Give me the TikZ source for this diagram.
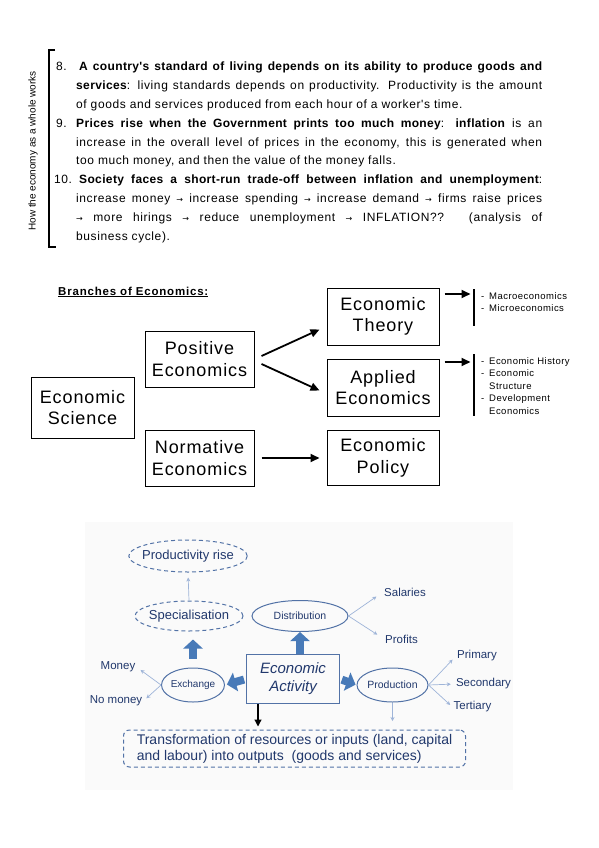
\documentclass[tikz,border=0pt]{standalone}
\usepackage{fontspec}
\setmainfont{Liberation Sans}
\newfontfamily\spaced[LetterSpace=5]{Liberation Sans}
\newfontfamily\boldsp[LetterSpace=3]{Liberation Sans}
\newfontfamily\headfont[LetterSpace=7]{Liberation Sans}
\newfontfamily\arrowfont{DejaVu Sans}
\usetikzlibrary{arrows.meta,shapes.geometric,positioning}
\definecolor{navytext}{RGB}{33,56,108}
\definecolor{ringblue}{RGB}{82,114,166}
\definecolor{blockblue}{RGB}{72,122,184}
\definecolor{paleblue}{RGB}{158,180,216}
\newcommand{\bt}[1]{{\boldsp\bfseries #1}}
\newcommand{\rarr}{{\arrowfont\fontsize{8}{8}\selectfont →}}

\begin{document}
\begin{tikzpicture}[x=1pt, y=-1pt,
  item/.style={anchor=base west, inner sep=0pt, text width=466pt, align=justify,
    font=\spaced\fontsize{12}{18.9}\selectfont},
  branchbox/.style={draw, line width=1pt, inner sep=0pt, align=center,
    font=\spaced\fontsize{18}{21.5}\selectfont},
  brarrow/.style={-{Triangle[length=9pt,width=8pt]}, line width=1.8pt},
  sublist/.style={anchor=north west, inner sep=0pt, align=left,
    font=\spaced\fontsize{9.5}{12.6}\selectfont},
  ring/.style={ellipse, draw=ringblue, line width=1pt, inner sep=0pt, text=navytext},
  dashring/.style={ring, dash pattern=on 4pt off 3pt, inner xsep=-4pt},
  leaf/.style={text=navytext, inner sep=1pt, font=\fontsize{11.5}{13}\selectfont},
  thinarr/.style={-{Stealth[length=4pt,width=4pt]}, draw=paleblue, line width=0.7pt},
  blockarr/.style={-{Triangle[length=9pt,width=19pt]}, line width=8pt, draw=blockblue}]

\useasboundingbox (0,0) rectangle (599,848);

% How the economy works
\node[rotate=90, font=\fontsize{10}{12}\selectfont] (side) at (33,151) {How the economy as a whole works};
\draw[line width=1.6pt] (55,50) -- (48.8,50) -- (48.8,247) -- (56,247);

\node[item] (p8) at (76,70.5) {\llap{\makebox[20pt][l]{8.}}\hspace{3pt}\bt{A country's standard of living depends on its ability to produce goods and}\linebreak
\bt{services}: living standards depends on productivity. Productivity is the amount\linebreak
of goods and services produced from each hour of a worker's time.};
\node[item] (p9) at (76,127.2) {\llap{\makebox[20pt][l]{9.}}\bt{Prices rise when the Government prints too much money}: \bt{inflation} is an\linebreak
increase in the overall level of prices in the economy, this is generated when\linebreak
too much money, and then the value of the money falls.};
\node[item] (p10) at (76,183.9) {\llap{\makebox[22pt][l]{10.}}\hspace{3pt}\bt{Society faces a short-run trade-off between inflation and unemployment}:\linebreak
increase money \rarr{} increase spending \rarr{} increase demand \rarr{} firms raise prices\linebreak
\rarr{} more hirings \rarr{} reduce unemployment \rarr{} INFLATION?? (analysis of\linebreak
business cycle).};

% Branches of economics
\node[anchor=base west, inner sep=0pt, font=\headfont\bfseries\fontsize{11.5}{13}\selectfont] (head) at (58,295) {\underline{Branches of Economics:}};

\node[branchbox, minimum width=103pt, minimum height=61pt] (sci) at (82.5,407.5) {Economic\\Science};
\node[branchbox, minimum width=109pt, minimum height=56pt] (pos) at (199.5,359) {Positive\\Economics};
\node[branchbox, minimum width=109pt, minimum height=56pt] (nor) at (199.5,458) {Normative\\Economics};
\node[branchbox, minimum width=112pt, minimum height=57pt] (theo) at (383,316.5) {Economic\\Theory};
\node[branchbox, minimum width=112pt, minimum height=57pt] (app) at (383,387.5) {Applied\\Economics};
\node[branchbox, minimum width=112pt, minimum height=55pt] (pol) at (383,458) {Economic\\Policy};

\draw[brarrow] ([xshift=7pt,yshift=3pt]pos.east) -- ([xshift=-7pt,yshift=-13pt]theo.west);
\draw[brarrow] ([xshift=7pt,yshift=-5pt]pos.east) -- ([xshift=-7pt,yshift=-3pt]app.west);
\draw[brarrow] ([xshift=7pt]nor.east) -- ([xshift=-7pt]pol.west);

% Sub-branches
\node[sublist] (theolist) at (481,292) {\makebox[8pt][l]{-}Macroeconomics\\\makebox[8pt][l]{-}Microeconomics};
\node[sublist] (applist) at (481,357) {\makebox[8pt][l]{-}Economic History\\\makebox[8pt][l]{-}Economic\\\hspace*{8pt}Structure\\\makebox[8pt][l]{-}Development\\\hspace*{8pt}Economics};
\draw[line width=1.5pt] (474,289) -- (474,326);
\draw[line width=1.5pt] (474,354) -- (474,416);
\coordinate (theobar) at (470.5,294);
\coordinate (appbar) at (470.5,362);
\draw[brarrow] ([xshift=5pt,yshift=22.5pt]theo.east) -- (theobar);
\draw[brarrow] ([xshift=5pt,yshift=25.5pt]app.east) -- (appbar);

% Economic activity figure
\fill[black!2] (85,522) rectangle (513,790);

\node[dashring, minimum width=116pt, minimum height=32pt, font=\fontsize{13}{15}\selectfont] (prod) at (188,556) {Productivity rise};
\node[dashring, minimum width=108pt, minimum height=30pt, font=\fontsize{13}{15}\selectfont] (spec) at (189,616) {Specialisation};
\node[ring, minimum width=96pt, minimum height=31pt, font=\fontsize{10.5}{12}\selectfont] (dist) at (300,616) {Distribution};
\node[draw=ringblue, line width=1pt, minimum width=93pt, minimum height=49pt, inner sep=0pt, align=center,
  text=navytext, font=\itshape\fontsize{15}{18}\selectfont] (act) at (293,679) {Economic\\Activity};
\node[ring, minimum width=56pt, minimum height=34pt, font=\fontsize{10}{12}\selectfont] (exch) at (193,685) {Exchange};
\node[ring, minimum width=70pt, minimum height=34pt, font=\fontsize{10.5}{12}\selectfont] (prodn) at (392.5,685) {Production};

\node[leaf] (sal) at (405,592) {Salaries};
\node[leaf] (prof) at (401.5,639) {Profits};
\node[leaf] (money) at (118,667) {Money};
\node[leaf] (nomoney) at (116,701) {No money};
\node[leaf] (prim) at (477,656) {Primary};
\node[leaf] (sec) at (483.5,684) {Secondary};
\node[leaf] (tert) at (472.5,707) {Tertiary};

\node[draw=ringblue, line width=1pt, dash pattern=on 4pt off 3pt, rounded corners=6pt, minimum width=342pt,
  minimum height=37pt, align=left, text=navytext, font=\fontsize{14}{16}\selectfont] (trans) at (294.5,748.5)
  {Transformation of resources or inputs (land, capital\\and labour) into outputs\ \ (goods and services)};

\draw[thinarr, shorten >=5pt] (spec.north) -- (prod.south);
\draw[thinarr, shorten >=8pt] (dist.east) -- (sal.west);
\draw[thinarr, shorten >=8pt] (dist.east) -- (prof.west);
\draw[thinarr, shorten >=5pt] (exch.west) -- (money.east);
\draw[thinarr, shorten >=4pt] (exch.west) -- (nomoney.east);
\draw[thinarr, shorten >=5pt] (prodn.east) -- (prim.west);
\draw[thinarr, shorten >=4pt] (prodn.east) -- (sec.west);
\draw[thinarr, shorten >=3pt] (prodn.east) -- (tert.west);
\coordinate (prodout) at (392.5,721);
\draw[thinarr] (prodn.south) -- (prodout);

\draw[blockarr] (act.north -| dist.south) -- (dist.south);
\draw[blockarr, shorten <=9pt, shorten >=8pt] (exch.north) -- (exch.north |- spec.south);
\draw[blockarr, shorten <=2pt, shorten >=2pt] (act.west) -- (exch.east);
\draw[blockarr, shorten <=2pt, shorten >=1pt] (act.east) -- (prodn.west);
\draw[-{Triangle[length=7pt,width=7pt]}, line width=1.2pt, shorten >=3pt] ([xshift=-35pt]act.south) -- ([xshift=-35pt]act.south |- trans.north);

\end{tikzpicture}
\end{document}
